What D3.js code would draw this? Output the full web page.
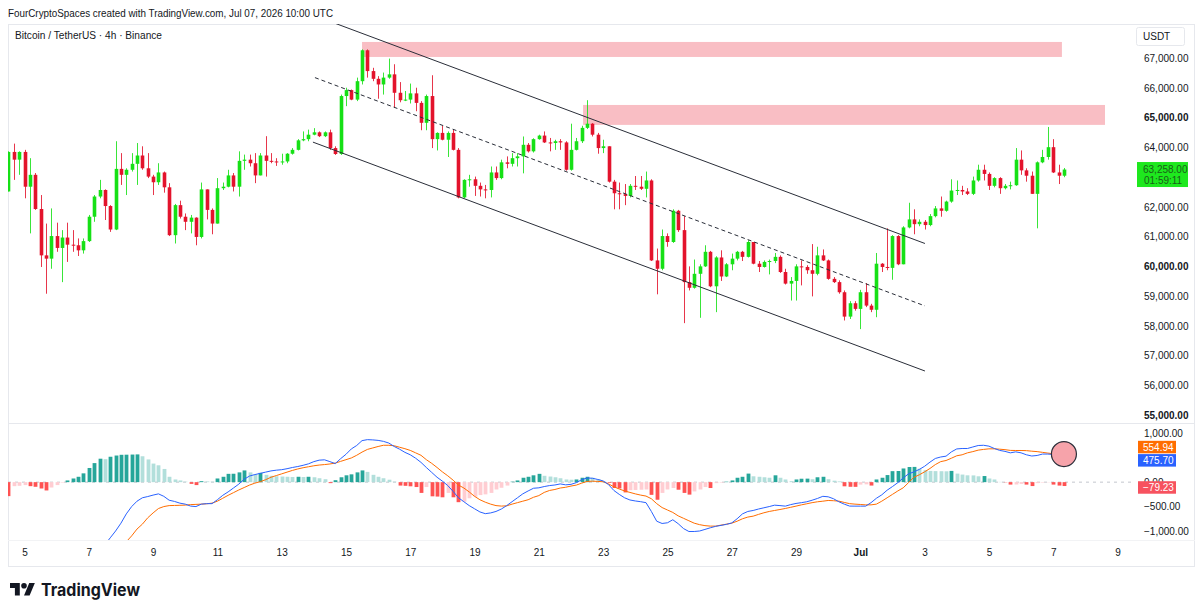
<!DOCTYPE html>
<html><head><meta charset="utf-8">
<script src="https://cdn.jsdelivr.net/npm/d3@7"></script>
<style>body{margin:0;background:#fff;}svg{display:block;font-family:"Liberation Sans",Arial,sans-serif;}</style>
</head><body>
<svg id="c" width="1200" height="615"></svg>
<script>
// ---------------- DATA ----------------
const headerText = "FourCryptoSpaces created with TradingView.com, Jul 07, 2026 10:00 UTC";
const symbolText = "Bitcoin / TetherUS · 4h · Binance";
const firstCandle = "2026-06-04T12:00:00Z";   // 4h candles
const firstOpen = 62520;
const closes = [63850,63590,63850,62680,63080,61930,60370,60260,61020,60620,
60970,60730,60710,60540,60850,61670,62350,62570,62030,61240,
63280,63080,63250,63450,63730,63300,63020,62830,63160,62660,
61050,62060,61670,61500,61640,60990,62590,61900,61440,62630,
62680,63060,62680,63550,63590,63470,63060,63730,63550,63530,
63510,63530,63790,63920,64240,64280,64430,64510,64380,64510,
63980,63780,65730,65930,65610,66230,67270,66570,66310,66120,
66350,66460,65840,65590,65610,65820,65500,64830,65730,64280,
64490,64260,64490,63920,62320,62910,62930,62710,62590,62570,
63160,62970,63500,63450,63640,63700,64090,63870,64280,64400,
64170,64150,64210,64170,63250,63920,64210,64660,64800,64430,
63980,64040,62850,62460,62430,62370,62710,62680,62610,62890,
60200,59920,61020,60820,61870,61220,59470,59280,59750,60000,
60490,59330,60300,59660,60070,60260,60490,60320,60820,60090,
59980,60150,60180,60320,59810,59420,59510,60000,59980,59870,
59750,60370,60200,59580,59470,59130,58310,58760,58570,59130,
58680,58540,60090,59980,59950,61020,60070,61310,61580,61420,
61500,61390,61690,61950,61870,62180,62550,62570,62520,62440,
62890,63250,63110,62710,62970,62630,62710,62730,63590,63230,
63050,62440,63500,63680,64010,63160,63050,63258];
const highs = [63870,64130,63870,63920,63640,63140,62400,61440,61950,61470,
61220,61470,61220,60940,60940,61730,62400,62910,62590,62060,
64210,63810,63300,63810,64150,64040,63810,63080,63470,63190,
62800,62100,62210,61780,61730,61650,62820,62590,61950,62970,
62820,63250,63140,63870,63760,63760,63810,63810,64380,63810,
63640,63790,63810,63980,64280,64540,64600,64650,64540,64540,
64600,64040,65780,66010,65950,66350,67300,67300,66680,66400,
66520,66990,66800,66200,65900,66150,66010,65560,65780,66430,
64510,64730,64540,64600,63980,62930,63080,63020,62820,62740,
63360,63360,63590,63700,63810,63810,64370,64150,64310,64430,
64540,64320,64260,64280,64210,64800,64320,64730,65590,64820,
64490,64260,64040,62910,62820,62770,62770,63040,63040,63190,
62930,60600,61240,61110,61920,61900,61690,60000,60230,60070,
60710,60520,60340,60540,60110,60430,60520,60520,60880,60820,
60180,60200,60230,60450,60370,59920,59640,60070,60200,60040,
60750,60660,60570,60230,59640,59530,59190,58830,58830,59210,
59440,58740,60450,60110,61280,61050,61050,61350,62140,61920,
61580,61560,61760,62030,62350,62210,62930,62890,62710,62630,
63020,63420,63420,63160,63000,63000,62770,62850,63980,63900,
63300,63190,63530,63920,64690,64280,63420,63310];
const lows = [62520,62910,63080,62290,61110,61900,59980,59080,59920,60490,
59470,60150,60490,60350,60430,60820,61500,62290,61560,61160,
61220,62740,62400,63190,62740,63250,62970,62400,62740,62480,
61020,60770,61610,61220,61110,60710,60940,61580,61080,61440,
62570,62660,62520,62350,63250,63360,62800,63060,63020,63470,
63380,63420,63470,63760,63900,64210,64210,64410,64350,64350,
63920,63750,63750,65390,65590,65560,66120,66350,66230,65640,
65780,66310,65330,65520,65560,65480,65220,64580,64580,63980,
63900,64240,63680,63900,62290,62290,62680,62370,62350,62290,
62320,62910,62930,63300,63360,63360,63130,63830,63830,64260,
64150,63870,63920,63920,63220,63220,63900,64150,64620,64370,
63790,63810,62820,61920,61920,62060,62320,62570,62570,62320,
60180,59060,59870,60660,60790,61160,58090,59190,59250,58270,
59980,59300,58460,59510,59640,59870,60200,60180,60300,60070,
59810,59960,59730,60110,59780,59390,58850,58850,59360,59750,
58990,59700,60180,59550,59440,59080,58180,58230,58510,57890,
58630,58460,58290,59810,59870,59550,60040,60070,61280,61080,
61350,61240,61350,61650,61670,61840,62140,62400,62400,62400,
62400,62850,62890,62570,62660,62440,62590,62590,62710,63080,
62850,62440,61280,63470,63590,63140,62770,63000];
const macdLine = [-1800,-1840,-1870,-1900,-1950,-1980,-2040,-2110,-2120,-2120,
-2100,-2060,-2000,-1930,-1830,-1700,-1560,-1420,-1280,-1140,
-1000,-840,-650,-500,-390,-320,-295,-265,-240,-290,
-370,-395,-430,-450,-490,-500,-450,-440,-440,-360,
-270,-200,-120,-40,60,125,155,180,205,230,
245,255,275,300,320,345,375,420,450,457,
420,380,480,570,680,750,850,870,865,855,
835,800,730,675,610,560,490,405,300,200,
100,20,-70,-190,-320,-400,-480,-545,-610,-645,
-630,-600,-550,-480,-400,-320,-240,-180,-125,-116,
-90,-70,-58,-36,-55,-45,-10,50,85,80,
55,25,-50,-170,-250,-320,-365,-385,-400,-420,
-600,-800,-846,-832,-770,-850,-950,-1010,-1010,-1000,
-968,-934,-905,-885,-865,-835,-750,-650,-600,-580,
-550,-525,-500,-471,-480,-491,-460,-436,-420,-402,
-370,-334,-290,-300,-340,-402,-450,-490,-491,-491,
-491,-420,-330,-260,-165,-90,-10,85,170,210,
260,325,410,485,515,532,620,680,689,689,
720,750,755,737,690,650,630,600,620,600,
560,535,546,575,575,566,530,475.70];
const signalLine = [-1520,-1760,-1800,-1840,-1870,-1890,-1910,-1940,-2010,-2060,
-2090,-2095,-2075,-2040,-2010,-1990,-1950,-1900,-1750,-1660,
-1545,-1400,-1220,-1100,-960,-860,-730,-630,-540,-500,
-480,-477,-474,-470,-460,-455,-450,-443,-430,-390,
-330,-270,-215,-160,-110,-60,-20,10,50,100,
135,170,205,240,270,295,315,335,350,360,
372,390,425,460,495,550,615,670,700,730,
755,755,745,715,685,650,600,550,460,385,
300,210,130,40,-60,-120,-200,-290,-360,-410,
-450,-480,-490,-485,-450,-420,-390,-360,-310,-275,
-210,-170,-150,-120,-105,-80,-60,-20,15,20,
15,8,-35,-95,-140,-180,-210,-240,-265,-285,
-340,-440,-520,-570,-620,-690,-740,-790,-840,-870,
-890,-900,-900,-880,-860,-840,-800,-750,-715,-696,
-660,-627,-600,-580,-560,-539,-515,-491,-465,-443,
-420,-402,-390,-375,-380,-389,-415,-440,-450,-457,
-465,-465,-450,-390,-320,-250,-180,-116,-10,100,
150,211,280,360,420,443,490,540,560,600,
625,655,670,682,682,675,665,650,648,648,
645,634,625,610,595,582,570,554.94];
const histogram = [-286,-82,-75,-60,-82,-95,-130,-170,-110,-60,
-10,35,75,110,180,290,390,480,470,520,
545,560,562,565,568,530,465,380,345,270,
110,55,35,10,-35,-60,20,15,10,75,
110,170,172,200,240,200,160,190,150,130,
120,115,110,105,110,105,110,100,80,60,
-20,40,100,140,160,200,240,210,150,110,
80,50,10,-70,-75,-85,-100,-220,-100,-290,
-295,-310,-220,-310,-410,-400,-330,-300,-265,-250,
-220,-150,-115,-70,10,35,90,110,140,170,
130,115,100,80,55,50,55,90,110,90,
60,20,-15,-120,-130,-210,-165,-160,-155,-150,
-260,-360,-220,-150,-120,-155,-220,-255,-190,-150,
-100,-120,-20,-10,10,35,90,110,175,120,
110,100,90,140,90,55,20,55,70,72,
60,100,110,60,30,15,-85,-95,-96,-50,
-45,-70,55,90,145,225,228,280,310,312,
275,245,230,226,224,222,230,175,155,140,
138,120,125,75,55,5,-5,-50,-48,-35,
-50,-80,-20,-10,-5,-50,-70,-79.23];
const priceTicks = [55000,56000,57000,58000,59000,60000,61000,62000,64000,65000,66000,67000]; // 63,000 is covered by the live price tag
const boldPriceTicks = [55000,60000,65000];
const macdTicks = [1000,0,-500,-1000];
const dateTicks = ["2026-06-05","2026-06-07","2026-06-09","2026-06-11","2026-06-13","2026-06-15","2026-06-17","2026-06-19","2026-06-21","2026-06-23","2026-06-25","2026-06-27","2026-06-29","2026-07-01","2026-07-03","2026-07-05","2026-07-07","2026-07-09"];
const dateLabels = ["5","7","9","11","13","15","17","19","21","23","25","27","29","Jul","3","5","7","9"];
const zoneStart = ["2026-06-15T12:00:00Z","2026-06-22T09:00:00Z"];
const zoneEnd   = ["2026-07-07T06:30:00Z","2026-07-08T14:40:00Z"];
const zoneTop   = [67550,65430];
const zoneBottom= [67045,64760];
const channelUpper = [["2026-06-14T15:45:00Z",68180],["2026-07-03T00:15:00Z",60770]];
const channelLower = [["2026-06-13T23:20:00Z",64180],["2026-07-03T00:15:00Z",56480]];
const channelMid   = [["2026-06-14T00:50:00Z",66350],["2026-07-03T00:15:00Z",58670]];
const lastPrice = 63258, countdown = "01:59:11";
const markerTime = "2026-07-07T08:00:00Z", markerValue = 575;

// ---------------- LAYOUT ----------------
const svg = d3.select("#c");
const L = 8, R = 1195, PR = 1133, T = 24, B = 566;
const pTop = 24, pBot = 423, mTop = 424, mBot = 540;
const H4 = 4*3600*1000;
const t0 = new Date(firstCandle).getTime();
const candles = closes.map((c,i)=>({
  t: new Date(t0 + i*H4),
  o: i===0 ? firstOpen : closes[i-1], c, h: highs[i], l: lows[i],
  macd: macdLine[i], sig: signalLine[i], hist: histogram[i]
}));
const x = d3.scaleUtc().domain([new Date("2026-06-05T00:00:00Z"), new Date("2026-07-09T00:00:00Z")]).range([24.5, 1117.5]);
const yP = d3.scaleLinear().domain([55000,67000]).range([415, 58.3]);
const yM = d3.scaleLinear().domain([-1000,1000]).range([531, 433.3]);

const defs = svg.append("defs");
defs.append("clipPath").attr("id","cp").append("rect").attr("x",L).attr("y",pTop).attr("width",PR-L).attr("height",pBot-pTop);
defs.append("clipPath").attr("id","cpz").append("rect").attr("x",L).attr("y",pTop).attr("width",R-L).attr("height",pBot-pTop);
defs.append("clipPath").attr("id","cm").append("rect").attr("x",L).attr("y",mTop).attr("width",PR-L).attr("height",mBot-mTop);

// header
svg.append("text").attr("x",8).attr("y",17).attr("font-size",11.5).attr("fill","#131722")
  .attr("textLength",325).attr("lengthAdjust","spacingAndGlyphs").text(headerText);
// frame
svg.append("rect").attr("x",L+0.5).attr("y",T+0.5).attr("width",R-L-1).attr("height",B-T).attr("fill","none").attr("stroke","#e6e8ed");
svg.append("line").attr("x1",L).attr("x2",R).attr("y1",pBot+0.5).attr("y2",pBot+0.5).attr("stroke","#e6e8ed");
svg.append("line").attr("x1",L).attr("x2",R).attr("y1",mBot+0.5).attr("y2",mBot+0.5).attr("stroke","#f2f3f5");
svg.append("text").attr("x",15).attr("y",39).attr("font-size",10.5).attr("fill","#131722")
  .attr("textLength",147).attr("lengthAdjust","spacingAndGlyphs").text(symbolText);

// zones
const gz = svg.append("g").attr("clip-path","url(#cpz)");
gz.selectAll("rect").data(zoneStart).join("rect")
  .attr("x",(d,i)=>x(new Date(d))).attr("width",(d,i)=>x(new Date(zoneEnd[i]))-x(new Date(d)))
  .attr("y",(d,i)=>yP(zoneTop[i])).attr("height",(d,i)=>yP(zoneBottom[i])-yP(zoneTop[i]))
  .attr("fill","#f9bec4");

// candles
const green = "#16e016", red = "#e3132c";
const gc = svg.append("g").attr("clip-path","url(#cp)");
const cg = gc.selectAll("g.c").data(candles).join("g");
cg.append("line")
  .attr("x1",d=>Math.round(x(d.t))+0.5).attr("x2",d=>Math.round(x(d.t))+0.5)
  .attr("y1",d=>yP(d.h)).attr("y2",d=>yP(d.l))
  .attr("stroke",d=>d.c>=d.o?green:red).attr("stroke-width",1).attr("stroke-opacity",0.85);
cg.append("rect")
  .attr("x",d=>Math.round(x(d.t))+0.5-1.8).attr("width",3.6)
  .attr("y",d=>yP(Math.max(d.o,d.c))).attr("height",d=>Math.max(1,Math.abs(yP(d.o)-yP(d.c))))
  .attr("fill",d=>d.c>=d.o?green:red);

// channel lines
const pl = d3.line().x(d=>x(new Date(d[0]))).y(d=>yP(d[1]));
gc.append("path").attr("d",pl(channelUpper)).attr("stroke","#2a2e39").attr("stroke-width",1).attr("fill","none");
gc.append("path").attr("d",pl(channelLower)).attr("stroke","#2a2e39").attr("stroke-width",1).attr("fill","none");
gc.append("path").attr("d",pl(channelMid)).attr("stroke","#2a2e39").attr("stroke-width",1).attr("stroke-dasharray","4,3").attr("fill","none");

// price axis
const pa = svg.append("g").attr("transform",`translate(1144,0)`)
  .call(d3.axisRight(yP).tickValues(priceTicks).tickSize(0).tickPadding(0).tickFormat(d3.format(",.2f")));
pa.select(".domain").remove();
pa.selectAll("text").attr("font-size",10).attr("fill","#131722").attr("font-family","Liberation Sans, Arial")
  .attr("font-weight",d=>boldPriceTicks.includes(d)?"bold":"normal");
// USDT box
svg.append("rect").attr("x",1136.5).attr("y",27.5).attr("width",48).attr("height",18).attr("rx",2).attr("fill","#fff").attr("stroke","#e6e8ed");
svg.append("text").attr("x",1143).attr("y",40).attr("font-size",10).attr("fill","#131722").text("USDT");
// last price label
const ly = yP(lastPrice);
svg.append("rect").attr("x",1137).attr("y",ly-7.5).attr("width",51).attr("height",25).attr("fill","#1ee81e");
svg.append("text").attr("x",1143).attr("y",ly+3.5).attr("font-size",10).attr("fill","#1a5e1a").text(d3.format(",.2f")(lastPrice));
svg.append("text").attr("x",1144).attr("y",ly+14.5).attr("font-size",10).attr("fill","#1a5e1a").text(countdown);

// MACD pane
const gm = svg.append("g").attr("clip-path","url(#cm)");
gm.append("line").attr("x1",L).attr("x2",R).attr("y1",yM(0)).attr("y2",yM(0)).attr("stroke","#c3c6cd").attr("stroke-dasharray","3,4");
gm.selectAll("rect.h").data(candles).join("rect")
  .attr("x",d=>Math.round(x(d.t))+0.5-1.9).attr("width",3.8)
  .attr("y",d=>Math.min(yM(0),yM(d.hist))).attr("height",d=>Math.abs(yM(d.hist)-yM(0)))
  .attr("fill",(d,i)=>{const p=i>0?candles[i-1].hist:d.hist;
     return d.hist>=0 ? (p<d.hist?"#26a69a":"#b2dfdb") : (p<d.hist?"#ffcdd2":"#ff5252");});
const ml = d3.line().x(d=>x(d.t));
gm.append("path").attr("d",ml.y(d=>yM(d.sig))(candles)).attr("stroke","#ff6d00").attr("stroke-width",1).attr("fill","none");
gm.append("path").attr("d",ml.y(d=>yM(d.macd))(candles)).attr("stroke","#2962ff").attr("stroke-width",1).attr("fill","none");
// marker circle
svg.append("circle").attr("cx",x(new Date(markerTime))).attr("cy",yM(markerValue)).attr("r",12.5)
  .attr("fill","#f6a3aa").attr("stroke","#2a2e39").attr("stroke-width",1.2);
gm.append("path").attr("d",ml.y(d=>yM(d.sig))(candles.slice(-3))).attr("stroke","#ff6d00").attr("stroke-width",1).attr("fill","none");
gm.append("path").attr("d",ml.y(d=>yM(d.macd))(candles.slice(-3))).attr("stroke","#2962ff").attr("stroke-width",1).attr("fill","none");

// MACD axis
const ma = svg.append("g").attr("transform",`translate(1144,0)`)
  .call(d3.axisRight(yM).tickValues(macdTicks).tickSize(0).tickPadding(0).tickFormat(d3.format(",.2f")));
ma.select(".domain").remove();
ma.selectAll("text").attr("font-size",10).attr("fill","#131722").attr("font-family","Liberation Sans, Arial")
  .attr("dy",d=>d===0?"0.3em":"0.32em");
// value tags, stacked so they don't collide (like TradingView)
const lastC = candles[candles.length-1];
const tags = [{v:lastC.sig,col:"#ff6d00"},{v:lastC.macd,col:"#2962ff"},{v:lastC.hist,col:"#f7525f"}]
  .map(d=>({...d,y:yM(d.v)+1.2})).sort((a,b)=>b.y-a.y);
for(let i=1;i<tags.length;i++){ if(tags[i-1].y - tags[i].y < 13.3) tags[i].y = tags[i-1].y - 13.3; }
tags.forEach(tg=>{
  svg.append("rect").attr("x",1138).attr("y",tg.y-6).attr("width",38).attr("height",12.5).attr("fill",tg.col);
  svg.append("text").attr("x",1143).attr("y",tg.y+3.7).attr("font-size",10).attr("fill","#fff").text(d3.format(",.2f")(tg.v));
});

// time axis
const ta = svg.append("g").attr("transform","translate(0,549)")
  .call(d3.axisBottom(x).tickValues(dateTicks.map(d=>new Date(d+"T00:00:00Z"))).tickSize(0).tickPadding(0).tickFormat((d,i)=>dateLabels[i]));
ta.select(".domain").remove();
ta.selectAll("text").attr("font-size",10).attr("fill","#131722").attr("font-family","Liberation Sans, Arial")
  .attr("font-weight",(d,i)=>dateLabels[i]==="Jul"?"bold":"normal");

// logo
const lg = svg.append("g").attr("transform","translate(10,580.2) scale(0.7)").attr("fill","#131722");
lg.append("path").attr("d","M14 22H7V11H0V4h14v18zM28 22h-8l7.5-18h8L28 22z");
lg.append("circle").attr("cx",20).attr("cy",8).attr("r",4);
svg.append("text").attr("x",41).attr("y",595.5).attr("font-size",17).attr("font-weight","bold").attr("fill","#131722")
  .attr("font-family","Inter, Liberation Sans, Arial").attr("textLength",99).attr("lengthAdjust","spacingAndGlyphs").text("TradingView");
</script>
</body></html>
